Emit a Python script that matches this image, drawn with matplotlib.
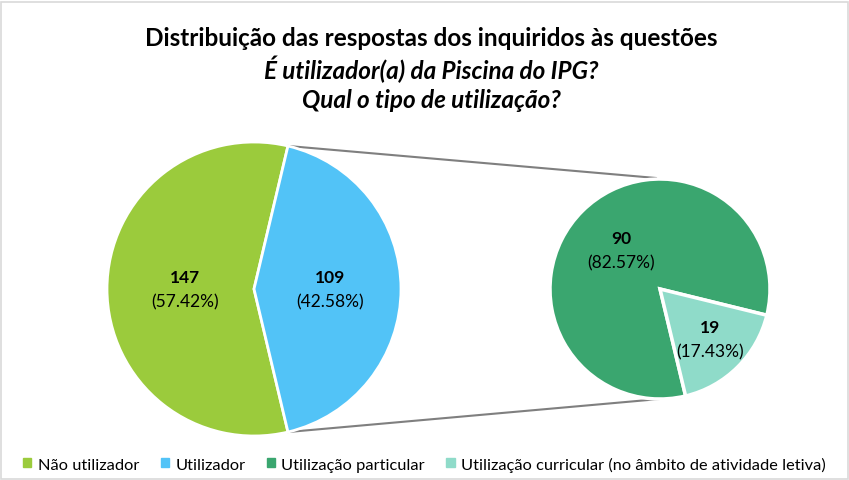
import matplotlib.pyplot as plt
import numpy as np
from matplotlib.patches import Rectangle

plt.rcParams['font.family'] = ['Lato', 'DejaVu Sans']

# dados
cat_uso = ['Não utilizador', 'Utilizador']
val_uso = [147, 109]
cat_tipo = ['Utilização particular', 'Utilização curricular (no âmbito de atividade letiva)']
val_tipo = [90, 19]

cores_uso = ['#9BCB3C', '#52C3F7']
cores_tipo = ['#3AA66F', '#8FDBC9']

W, H = 849, 481
fig = plt.figure(figsize=(W / 100, H / 100), dpi=100)
ax = fig.add_axes([0, 0, 1, 1])
ax.set_xlim(0, W)
ax.set_ylim(0, H)
ax.set_aspect('equal')
ax.axis('off')

# moldura
ax.add_patch(Rectangle((1, 1), W - 2, H - 4, fill=False, ec='#D9D9D9', lw=1.2))

c1, r1 = (254, 191), 147
c2, r2 = (660, 191), 110

pct_uso = np.array(val_uso) / sum(val_uso) * 100
pct_tipo = np.array(val_tipo) / sum(val_tipo) * 100

st1 = pct_uso[1] / 100 * 360 / 2  # fatia Utilizador centrada a 0 graus
st2 = -13.8

w1, _ = ax.pie(val_uso, colors=cores_uso, startangle=st1, center=c1, radius=r1,
               wedgeprops=dict(edgecolor='white', linewidth=2), frame=True)
w2, _ = ax.pie(val_tipo, colors=cores_tipo, startangle=st2, center=c2, radius=r2,
               explode=[0, 0.035], wedgeprops=dict(edgecolor='white', linewidth=2.5), frame=True)
ax.set_xlim(0, W)
ax.set_ylim(0, H)
ax.axis('off')

# linhas de ligação
a_top = np.deg2rad(st1)
a_bot = np.deg2rad(-st1)
p_top = (c1[0] + r1 * np.cos(a_top), c1[1] + r1 * np.sin(a_top))
p_bot = (c1[0] + r1 * np.cos(a_bot), c1[1] + r1 * np.sin(a_bot))
q_top = (c2[0] - 4, c2[1] + r2 + 1)
q_bot = (c2[0] + 22, c2[1] - r2 + 2)
ax.plot([p_top[0], q_top[0]], [p_top[1], q_top[1]], color='#7F7F7F', lw=1.5, zorder=0)
ax.plot([p_bot[0], q_bot[0]], [p_bot[1], q_bot[1]], color='#7F7F7F', lw=1.5, zorder=0)


def rotulo(centro, raio, ang, frac, n, pct):
    a = np.deg2rad(ang)
    x = centro[0] + frac * raio * np.cos(a)
    y = centro[1] + frac * raio * np.sin(a)
    ax.text(x, y + 12, str(n), ha='center', va='center', fontsize=12.5, fontweight='bold')
    ax.text(x, y - 12, '(%.2f%%)' % pct, ha='center', va='center', fontsize=12.5)


ang_uso = [st1 + 360 * pct_uso[0] / 200, st1 + 360 * pct_uso[0] / 100 + 360 * pct_uso[1] / 200]
ang_tipo = [st2 + 360 * pct_tipo[0] / 200, st2 + 360 * pct_tipo[0] / 100 + 360 * pct_tipo[1] / 200]
rotulo(c1, r1, ang_uso[0], 0.47, val_uso[0], pct_uso[0])
rotulo(c1, r1, ang_uso[1], 0.52, val_uso[1], pct_uso[1])
rotulo(c2, r2, ang_tipo[0], 0.5, val_tipo[0], pct_tipo[0])
rotulo(c2, r2, ang_tipo[1], 0.64, val_tipo[1], pct_tipo[1])

# titulo
ax.text(W / 2 + 7, H - 38, 'Distribuição das respostas dos inquiridos às questões',
        ha='center', va='center', fontsize=17.5, fontweight='bold')
ax.text(W / 2 + 7, H - 69, 'É utilizador(a) da Piscina do IPG?',
        ha='center', va='center', fontsize=17.5, fontweight='bold', style='italic')
ax.text(W / 2 + 7, H - 100, 'Qual o tipo de utilização?',
        ha='center', va='center', fontsize=17.5, fontweight='bold', style='italic')

# legenda
handles = [Rectangle((0, 0), 1, 1, color=c) for c in cores_uso + cores_tipo]
fig.legend(handles, cat_uso + cat_tipo, loc='center', bbox_to_anchor=(0.5, 1 - 465 / H),
           ncol=4, frameon=False, fontsize=11.8, handlelength=0.5, handleheight=0.5,
           handletextpad=0.4, columnspacing=1.3)

fig.savefig('out.png', dpi=100)
